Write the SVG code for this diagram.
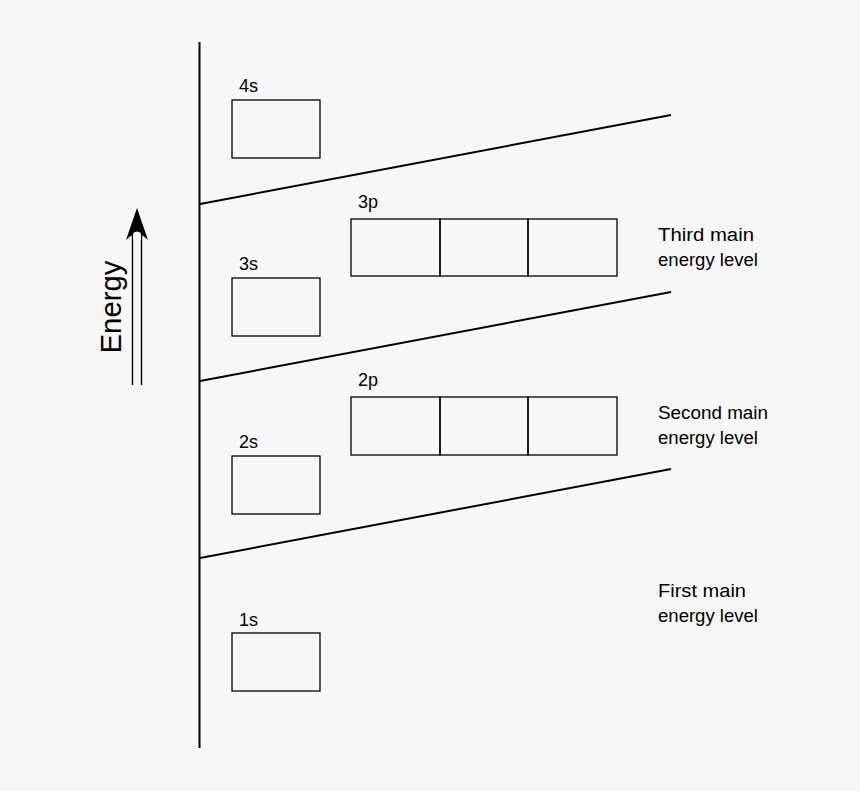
<svg xmlns="http://www.w3.org/2000/svg" width="860" height="791" viewBox="0 0 860 791">
<style>
text{font-family:"Liberation Sans",Arial,sans-serif;fill:#000}
.lbl{font-size:18px}
.box{fill:none;stroke:#000;stroke-width:1.3}
.ln{stroke:#000;stroke-width:2;fill:none}
</style>
<rect width="860" height="791" fill="#f7f7f7"/>
<g id="connectors">
<line class="ln" x1="199.5" y1="42" x2="199.5" y2="748"/>
<line class="ln" x1="200" y1="204" x2="671" y2="115"/>
<line class="ln" x1="200" y1="381" x2="671" y2="292"/>
<line class="ln" x1="200" y1="558" x2="671" y2="469"/>
</g>
<g id="energy-arrow">
<line x1="132.5" y1="385" x2="132.5" y2="232" stroke="#000" stroke-width="1.4"/>
<line x1="141.5" y1="385" x2="141.5" y2="232" stroke="#000" stroke-width="1.4"/>
<path d="M137 208 L126 240 Q137 228 148 240 Z" fill="#000"/>
<path d="M133.2 240 L133.2 233 Q137 230 140.8 233 L140.8 240 Z" fill="#f7f7f7"/>
<text transform="translate(121 307) rotate(-90)" text-anchor="middle" font-size="30" textLength="93" lengthAdjust="spacingAndGlyphs">Energy</text>
</g>
<g id="orb-4s"><text class="lbl" x="239" y="92">4s</text><rect class="box" x="232" y="100" width="88" height="58"/></g>
<g id="orb-3s"><text class="lbl" x="239" y="270">3s</text><rect class="box" x="232" y="278" width="88" height="58"/></g>
<g id="orb-2s"><text class="lbl" x="239" y="448">2s</text><rect class="box" x="232" y="456" width="88" height="58"/></g>
<g id="orb-1s"><text class="lbl" x="239" y="626">1s</text><rect class="box" x="232" y="633" width="88" height="58"/></g>
<g id="orb-3p"><text class="lbl" x="358" y="208">3p</text>
<rect class="box" x="351" y="219" width="89" height="57"/><rect class="box" x="440" y="219" width="88" height="57"/><rect class="box" x="528" y="219" width="89" height="57"/></g>
<g id="orb-2p"><text class="lbl" x="358" y="386">2p</text>
<rect class="box" x="351" y="397" width="89" height="58"/><rect class="box" x="440" y="397" width="88" height="58"/><rect class="box" x="528" y="397" width="89" height="58"/></g>
<g id="level-3"><text class="lbl" x="658" y="241" textLength="96" lengthAdjust="spacingAndGlyphs">Third main</text><text class="lbl" x="658" y="266" textLength="100" lengthAdjust="spacingAndGlyphs">energy level</text></g>
<g id="level-2"><text class="lbl" x="658" y="419" textLength="110" lengthAdjust="spacingAndGlyphs">Second main</text><text class="lbl" x="658" y="444" textLength="100" lengthAdjust="spacingAndGlyphs">energy level</text></g>
<g id="level-1"><text class="lbl" x="658" y="597" textLength="88" lengthAdjust="spacingAndGlyphs">First main</text><text class="lbl" x="658" y="622" textLength="100" lengthAdjust="spacingAndGlyphs">energy level</text></g>
</svg>
